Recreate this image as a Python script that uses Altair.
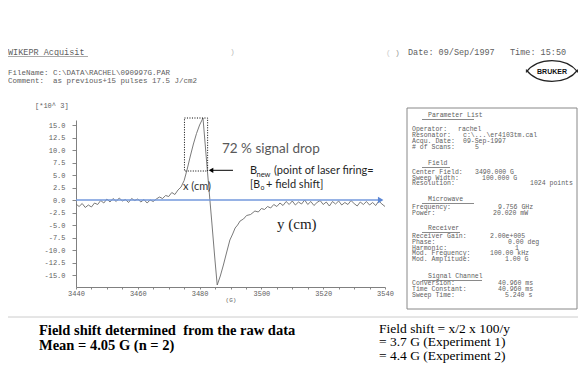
import altair as alt
import pandas as pd

# ---------------- data ----------------
field_G = [3440, 3441, 3442, 3443, 3444, 3445, 3446, 3447, 3448, 3449,
           3450, 3451, 3452, 3453, 3454, 3455, 3456, 3457, 3458, 3459,
           3460, 3461, 3462, 3463, 3464, 3465, 3466, 3467, 3468, 3469,
           3470, 3471, 3472, 3473, 3474, 3475, 3476, 3477, 3478, 3479,
           3480, 3481.1, 3482.5, 3484, 3485, 3485.7, 3486.7, 3487.7, 3488.7, 3489.8,
           3490.7, 3491.5, 3492.3, 3493.1, 3494.2, 3495.2, 3496.5, 3497.9, 3499, 3500,
           3501, 3502, 3503, 3504, 3505, 3506, 3507, 3508, 3509, 3510,
           3511, 3512, 3513, 3514, 3515, 3516, 3517, 3518, 3519, 3520,
           3521, 3522, 3523, 3524, 3525, 3526, 3527, 3528, 3529, 3530,
           3531, 3532, 3533, 3534, 3535, 3536, 3537, 3538, 3539, 3540]
signal_k = [-0.8, -1.3, -0.7, -1.5, -1.0, -1.4, -0.6, -0.9, -0.1, -0.6,
            0.2, -0.4, 0.3, -0.3, 0.4, -0.2, 0.1, -0.5, 0.3, -0.1,
            0.2, -0.4, 0.1, -0.6, 0.0, -0.3, 0.2, 0.6, 0.3, 0.9,
            0.7, 1.5, 1.1, 2.0, 2.6, 3.9, 6.2, 8.8, 11.2, 13.3,
            15.0, 16.4, 6.0, -4.8, -12.2, -17.0, -15.2, -13.0, -10.6, -8.0,
            -6.8, -5.6, -5.0, -4.2, -3.8, -3.1, -2.9, -2.2, -2.4, -1.7,
            -1.9, -1.3, -1.6, -0.9, -1.3, -0.6, -1.1, -0.3, -0.9, -0.2,
            -1.0, -0.4, -0.8, 0.0, -0.9, -0.3, -1.1, -0.5, -0.1, -0.9,
            -0.4, -1.2, -0.3, -0.8, -0.2, -1.0, -0.5, -0.9, -0.1, -0.7,
            -1.2, -0.4, -0.9, -0.3, -1.0, -0.5, -1.1, -0.2, -0.8, -1.3]

x_tick_values = [3440, 3445, 3450, 3455, 3460, 3465, 3470, 3475, 3480, 3485, 3490,
                 3495, 3500, 3505, 3510, 3515, 3520, 3525, 3530, 3535, 3540]
y_tick_values = [-15.0, -12.5, -10.0, -7.5, -5.0, -2.5, 0.0, 2.5, 5.0, 7.5, 10.0, 12.5, 15.0]

NB = "\u00a0"
title_line = "WIKEPR Acquisit"
file_line = "FileName: C:\\DATA\\RACHEL\\090997G.PAR"
comment_line = "Comment:" + NB * 2 + "as previous+15 pulses 17.5 J/cm2"
date_line = "Date: 09/Sep/1997" + NB * 3 + "Time: 15:50"
y_unit = "[*10^ 3]"
x_unit = "(G)"

param_headers = ["Parameter List", "Field", "Microwave", "Receiver", "Signal Channel"]
param_labels = [
    ["Operator:", "Resonator:", "Acqu. Date:", "# of Scans:"],
    ["Center Field:", "Sweep Width:", "Resolution:"],
    ["Frequency:", "Power:"],
    ["Receiver Gain:", "Phase:", "Harmonic:", "Mod. Frequency:", "Mod. Amplitude:"],
    ["Conversion:", "Time Constant:", "Sweep Time:"],
]
param_values = [
    ["rachel", "c:\\...\\er4103tm.cal", "09-Sep-1997", "5"],
    ["3490.000 G", "100.000 G", "1024 points"],
    ["9.756 GHz", "20.020 mW"],
    ["2.00e+005", "0.00 deg", "1", "100.00 kHz", "1.00 G"],
    ["40.960 ms", "40.960 ms", "5.240 s"],
]
annot_drop = "72 % signal drop"
annot_bnew = ["B", "new", "(point of laser firing="]
annot_bo = ["[B", "o", "+ field shift]"]
annot_x = "x (cm)"
annot_y = "y (cm)"
bottom_left = ["Field shift determined" + NB + " from the raw data", "Mean = 4.05 G (n = 2)"]
bottom_right = ["Field shift = x/2 x 100/y", "= 3.7 G (Experiment 1)", "= 4.4 G (Experiment 2)"]

# ---------------- layout (image pixels) ----------------
OX, OY = 76, 120          # top-left of the plot area in the picture
PW, PH = 309, 167
SVG_W, SVG_H = 570, 355
MONO = "Liberation Mono"
GRAY = "#606060"
one = pd.DataFrame({"k": [0]})


def ptext(s, X, Y, size=7.0, font=MONO, color=GRAY, weight="normal", align="left"):
    return alt.Chart(one).mark_text(
        text=s, font=font, fontSize=size, color=color, fontWeight=weight,
        align=align, baseline="middle"
    ).encode(x=alt.value(X - OX), y=alt.value(Y - OY))


def hline(X1, X2, Y, color="#999999", width=1.0):
    return alt.Chart(one).mark_rule(color=color, strokeWidth=width).encode(
        x=alt.value(X1 - OX), x2=alt.value(X2 - OX), y=alt.value(Y - OY))


def prect(X1, Y1, X2, Y2, color="#888888"):
    return alt.Chart(one).mark_rect(fillOpacity=0, stroke=color, strokeWidth=1).encode(
        x=alt.value(X1 - OX), x2=alt.value(X2 - OX), y=alt.value(Y1 - OY), y2=alt.value(Y2 - OY))


xscale = alt.Scale(domain=[3440, 3540], nice=False, zero=False)
yscale = alt.Scale(domain=[-17.4, 16.0], nice=False, zero=False)
x_axis = alt.Axis(
    values=x_tick_values,
    labelExpr="datum.value % 20 == 0 ? format(datum.value, 'd') : ''",
    title=x_unit, titleFont=MONO, titleFontSize=6, titleColor=GRAY,
    titleFontWeight="normal", titlePadding=0,
    labelFont=MONO, labelFontSize=7, labelColor=GRAY, labelPadding=0,
    labelFlush=False, labelOverlap=False,
    tickSize=2, tickColor="#888888", domainColor="#808080", grid=False)
y_axis = alt.Axis(
    values=y_tick_values,
    labelExpr="(datum.value < 0 ? '-' : '') + format(abs(datum.value), '.1f')",
    title=None, labelFont=MONO, labelFontSize=7, labelColor=GRAY,
    labelPadding=7, labelFlush=False, labelOverlap=False,
    tickSize=4, tickColor="#888888", domainColor="#808080", grid=False)


def dx():
    return alt.X("f:Q", scale=xscale, axis=x_axis)


def dy():
    return alt.Y("v:Q", scale=yscale, axis=y_axis)


spec_df = pd.DataFrame({"f": field_G, "v": signal_k})
spectrum = alt.Chart(spec_df).mark_line(color="#6b6b6b", strokeWidth=0.9).encode(x=dx(), y=dy())

# dotted box around the peak
box_df = pd.DataFrame({"f": [3475.1], "f2": [3482.6], "v": [16.4], "v2": [5.8]})
dotted_box = alt.Chart(box_df).mark_rect(
    fillOpacity=0, stroke="black", strokeWidth=1, strokeDash=[1, 1.5]
).encode(x=dx(), x2="f2:Q", y=dy(), y2="v2:Q")

# black arrow pointing at the falling edge
arr_df = pd.DataFrame({"f": [3490.8], "f2": [3484.2], "v": [5.94]})
arrow_line = alt.Chart(arr_df).mark_rule(color="black", strokeWidth=1).encode(
    x=dx(), x2="f2:Q", y=dy())
head_df = pd.DataFrame({"f": [3483.7], "v": [5.94]})
arrow_head = alt.Chart(head_df).mark_point(
    shape="triangle-left", filled=True, color="black", size=28, opacity=1
).encode(x=dx(), y=dy())

# blue baseline arrow
blue_df = pd.DataFrame({"f": [3440], "f2": [3538.2], "v": [0.0]})
blue_line = alt.Chart(blue_df).mark_rule(color="#7399dd", strokeWidth=1.6).encode(
    x=dx(), x2="f2:Q", y=dy())
bhead_df = pd.DataFrame({"f": [3538.6], "v": [0.0]})
blue_head = alt.Chart(bhead_df).mark_point(
    shape="triangle-right", filled=True, color="#5b86d4", size=40, opacity=1
).encode(x=dx(), y=dy())

layers = [spectrum, dotted_box, blue_line, blue_head, arrow_line, arrow_head]

# annotations on the plot
SANS = "Lato"
INK = "#1f1f1f"
layers += [
    ptext(annot_drop, 222, 149, size=13.5, font=SANS, color="#595959"),
    ptext(annot_bnew[0], 250, 171, size=11, font=SANS, color=INK),
    ptext(annot_bnew[1], 256.5, 174.5, size=7.5, font=SANS, color=INK),
    ptext(annot_bnew[2], 274, 171, size=11, font=SANS, color=INK),
    ptext(annot_bo[0], 250, 185, size=10.5, font=SANS, color=INK),
    ptext(annot_bo[1], 260.5, 188, size=7, font=SANS, color=INK),
    ptext(annot_bo[2], 266, 185, size=11, font=SANS, color=INK),
    ptext(annot_x, 183, 187, size=11, font=SANS, color="#333333"),
    ptext(annot_y, 277, 224, size=15, font="Liberation Serif", color="#222222"),
]

# header of the printout
layers += [
    ptext(title_line, 8, 52, size=8.5),
    hline(8, 88, 56.5, color="#aaaaaa"),
    ptext(")", 230, 52, size=8, color="#bbbbbb"),
    ptext("(", 386, 53, size=8, color="#cccccc"),
    ptext(")", 395, 53, size=8, color="#999999"),
    ptext(date_line, 408, 52, size=8.5),
    ptext(file_line, 8, 72.5, size=7.5),
    ptext(comment_line, 8, 80.5, size=7.5),
    ptext(y_unit, 35, 106, size=7),
]

# Bruker logo
top_arc = "M -1 0.05 C -0.55 -0.55 0.55 -0.55 1 0.05"
bot_arc = "M -1 -0.05 C -0.55 0.55 0.55 0.55 1 -0.05"
for shp in (top_arc, bot_arc):
    layers.append(alt.Chart(one).mark_point(
        shape=shp, filled=False, color="#222222", strokeWidth=1.2, size=2700, opacity=1
    ).encode(x=alt.value(552 - OX), y=alt.value(71 - OY)))
layers.append(ptext("BRUKER", 552, 71.5, size=7, font="Liberation Sans", color="#111111",
                    weight="bold", align="center"))

# parameter list box
layers.append(prect(407, 108, 577, 309))
header_y = [115, 163, 199, 228, 276]
header_ul_end = [474, 450, 474, 460, 482]
item_start_y = [129.3, 171.8, 207.3, 236, 283]
value_x = [
    [458, 463, 463, 475],
    [475, 482, 530],
    [498, 493],
    [490, 508, 515, 490, 505],
    [498, 498, 505],
]
for s, hdr in enumerate(param_headers):
    layers.append(ptext(hdr, 428, header_y[s], size=6.5))
    layers.append(hline(422, header_ul_end[s], header_y[s] + 4.5, color="#8a8a8a"))
    for i, lab in enumerate(param_labels[s]):
        yy = item_start_y[s] + 5.8 * i
        layers.append(ptext(lab, 412, yy, size=6.5))
        layers.append(ptext(param_values[s][i], value_x[s][i], yy, size=6.5))

# bottom border of the printout
layers.append(hline(8, 578, 317, color="#cccccc"))

# text under the printout
SERIF = "Liberation Serif"
layers += [
    ptext(bottom_left[0], 39, 330.5, size=14.5, font=SERIF, color="black", weight="bold"),
    ptext(bottom_left[1], 39, 345.5, size=14.5, font=SERIF, color="black", weight="bold"),
    ptext(bottom_right[0], 379, 328.5, size=13.5, font=SERIF, color="black"),
    ptext(bottom_right[1], 379, 342, size=13.5, font=SERIF, color="black"),
    ptext(bottom_right[2], 379, 355.5, size=13.5, font=SERIF, color="black"),
]

chart = alt.layer(*layers).properties(
    width=PW, height=PH,
    padding={"left": OX - 8, "top": OY - 8,
             "right": SVG_W - (OX - 8) - PW, "bottom": SVG_H - (OY - 8) - PH},
    autosize=alt.AutoSizeParams(type="none"),
    background="white",
).configure_view(stroke=None)

chart.save("out.html", embed_options={"renderer": "svg", "actions": False})
